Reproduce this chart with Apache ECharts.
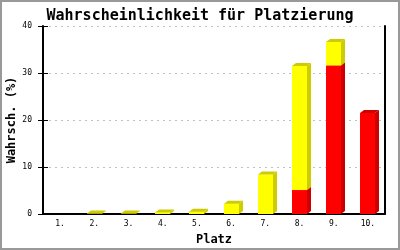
<!DOCTYPE html>
<html>
<head>
<meta charset="utf-8">
<script src="https://cdn.jsdelivr.net/npm/echarts@6/dist/echarts.min.js"></script>
<style>
html,body{margin:0;padding:0;background:#fff;}
#wrap{position:relative;width:400px;height:250px;}
#c{position:absolute;left:0;top:0;width:400px;height:250px;}
#frame{position:absolute;left:0;top:0;width:400px;height:250px;box-sizing:border-box;border:2px solid #999;pointer-events:none;}
</style>
</head>
<body>
<div id="wrap"><div id="c"></div><div id="frame"></div></div>
<script>
const titleText = 'Wahrscheinlichkeit für Platzierung';
const xName = 'Platz';
const yName = 'Wahrsch. (%)';
const categories = ['1.','2.','3.','4.','5.','6.','7.','8.','9.','10.'];
const redValues = [0, 0, 0, 0, 0, 0, 0, 5.1, 31.6, 21.5];
const yellowValues = [0, 0.1, 0.1, 0.3, 0.5, 2.2, 8.4, 26.4, 5.0, 0];
const yTicks = [0, 10, 20, 30, 40];

const FONT = 'DejaVu Sans Mono';
const DX = 4, DY = 3;

function make3D(front, side) {
  return function (params, api) {
    const i = api.value(0), lo = api.value(1), hi = api.value(2);
    if (!(hi > lo)) return;
    const p0 = api.coord([i, lo]);
    const p1 = api.coord([i, hi]);
    const w = api.size([1, 0])[0] * 0.44;
    const xl = Math.round(p0[0] - w / 2), xr = xl + Math.round(w);
    const yb = p0[1], yt = p1[1];
    return {
      type: 'group',
      children: [
        { type: 'rect', shape: { x: xl, y: yt, width: xr - xl, height: yb - yt }, style: { fill: front } },
        { type: 'polygon', shape: { points: [[xr, yt], [xr + DX, yt - DY], [xr + DX, yb - DY], [xr, yb]] }, style: { fill: side } },
        { type: 'polygon', shape: { points: [[xl, yt], [xl + DX, yt - DY], [xr + DX, yt - DY], [xr, yt]] }, style: { fill: side } }
      ]
    };
  };
}

const redData = categories.map((c, i) => [i, 0, redValues[i]]);
const yellowData = categories.map((c, i) => [i, redValues[i], redValues[i] + yellowValues[i]]);

const chart = echarts.init(document.getElementById('c'), null, { renderer: 'canvas' });
chart.setOption({
  animation: false,
  backgroundColor: '#fff',
  title: {
    text: titleText, left: 'center', top: 4,
    textStyle: { fontFamily: FONT, fontWeight: 'bold', fontSize: 15, color: '#000' }
  },
  grid: { left: 43, right: 15, top: 26, bottom: 36, containLabel: false, outerBoundsMode: 'none' },
  xAxis: {
    type: 'category', data: categories,
    name: xName, nameLocation: 'middle', nameGap: 20, nameMoveOverlap: false,
    nameTextStyle: { fontFamily: FONT, fontWeight: 'bold', fontSize: 12, color: '#000' },
    axisLine: { lineStyle: { color: '#000', width: 2 } },
    axisTick: { show: false },
    axisLabel: { fontFamily: FONT, fontSize: 8, color: '#000', margin: 6 },
    splitLine: { show: false }
  },
  yAxis: [
    {
      type: 'value', min: yTicks[0], max: yTicks[yTicks.length - 1], interval: 10,
      name: yName, nameLocation: 'middle', nameGap: 25, nameMoveOverlap: false,
      nameTextStyle: { fontFamily: FONT, fontWeight: 'bold', fontSize: 12, color: '#000' },
      axisLine: { show: true, lineStyle: { color: '#000', width: 2 } },
      axisTick: { show: true, length: 5, lineStyle: { color: '#000', width: 1 } },
      axisLabel: { fontFamily: FONT, fontSize: 8, color: '#000', margin: 11 },
      splitLine: { show: true, lineStyle: { color: '#c0c0c0', width: 1, type: [2, 4] } }
    },
    {
      type: 'value', min: yTicks[0], max: yTicks[yTicks.length - 1], interval: 10, position: 'left',
      axisLine: { show: false },
      axisTick: { show: true, inside: true, length: 5, lineStyle: { color: '#000', width: 1 } },
      axisLabel: { show: false }, splitLine: { show: false }
    },
    {
      type: 'value', min: yTicks[0], max: yTicks[yTicks.length - 1], interval: 10, position: 'right',
      axisLine: { show: true, lineStyle: { color: '#000', width: 2 } },
      axisTick: { show: false }, axisLabel: { show: false }, splitLine: { show: false }
    }
  ],
  series: [
    { type: 'custom', name: 'rot', data: redData, renderItem: make3D('#ff0000', '#cc0000'), encode: { x: 0, y: [1, 2] }, z: 3 },
    { type: 'custom', name: 'gelb', data: yellowData, renderItem: make3D('#ffff00', '#cccc00'), encode: { x: 0, y: [1, 2] }, z: 3 }
  ]
});
</script>
</body>
</html>
